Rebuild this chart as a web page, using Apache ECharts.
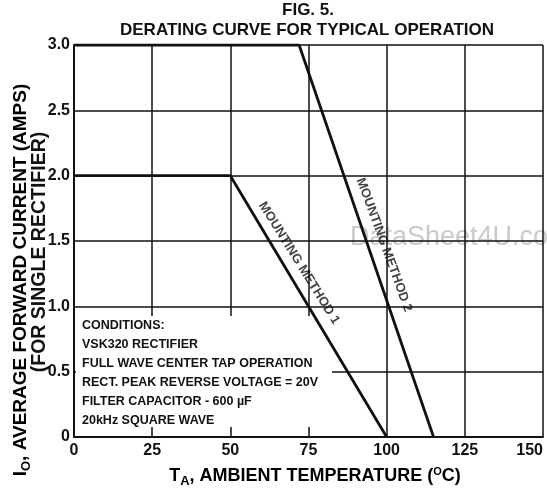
<!DOCTYPE html>
<html>
<head>
<meta charset="utf-8">
<script src="https://cdn.jsdelivr.net/npm/echarts@6/dist/echarts.min.js"></script>
<style>
  html, body { margin: 0; padding: 0; background: #fff; }
  #chart { width: 547px; height: 488px; }
</style>
</head>
<body>
<div id="chart"></div>
<script>
// Courbes de déclassement (temp. ambiante °C, courant A)
const method1 = [[0, 2.0], [50, 2.0], [100, 0]];
const method2 = [[0, 3.0], [72, 3.0], [115, 0]];

// Position des étiquettes le long des courbes
const label1Pos = [72, 1.33];
const label2Pos = [99.2, 1.47];

const conditions = [
  'CONDITIONS:',
  'VSK320 RECTIFIER',
  'FULL WAVE CENTER TAP OPERATION',
  'RECT. PEAK REVERSE VOLTAGE = 20V',
  'FILTER CAPACITOR - 600 \u00b5F',
  '20kHz SQUARE WAVE',
];

const FONT = '"Liberation Sans", Arial, Helvetica, sans-serif';
const INK = '#111';

const chart = echarts.init(document.getElementById('chart'), null, { renderer: 'canvas' });

const condTexts = conditions.map((t, i) => ({
  type: 'text',
  z: 3,
  x: 82,
  y: 326 + i * 19,
  style: { text: t, font: `bold 12.5px ${FONT}`, fill: INK, verticalAlign: 'middle' },
}));

const option = {
  backgroundColor: '#fff',
  animation: false,
  grid: { left: 74, right: 4, top: 45, bottom: 51, outerBoundsMode: 'none' },
  xAxis: {
    type: 'value',
    min: 0, max: 150, interval: 25,
    axisLine: { show: true, lineStyle: { color: INK, width: 2 } },
    axisTick: { show: false },
    axisLabel: {
      color: INK, fontFamily: FONT, fontWeight: 'bold', fontSize: 16, margin: 6,
      alignMaxLabel: 'right',
    },
    splitLine: { show: true, lineStyle: { color: INK, width: 1.5 } },
  },
  yAxis: {
    type: 'value',
    min: 0, max: 3, interval: 0.5,
    axisLine: { show: true, lineStyle: { color: INK, width: 2 } },
    axisTick: { show: false },
    axisLabel: {
      color: INK, fontFamily: FONT, fontWeight: 'bold', fontSize: 16, margin: 4,
      formatter: v => (v === 0 ? '0' : v.toFixed(1)),
    },
    splitLine: { show: true, lineStyle: { color: INK, width: 1.5 } },
  },
  graphic: [
    // titre
    { type: 'text', x: 308, y: 10, style: { text: 'FIG. 5.', font: `bold 17px ${FONT}`, fill: INK, align: 'center', verticalAlign: 'middle' } },
    { type: 'text', x: 307, y: 30, style: { text: 'DERATING CURVE FOR TYPICAL OPERATION', font: `bold 17px ${FONT}`, fill: INK, align: 'center', verticalAlign: 'middle' } },
    // cadre blanc des conditions
    { type: 'rect', z: 1, shape: { x: 76, y: 316, width: 256, height: 111 }, style: { fill: '#fff' } },
    ...condTexts,
    // titre axe Y
    {
      type: 'text', x: 21, y: 280, rotation: Math.PI / 2,
      style: {
        text: '{a|I}{s|O}{a|, AVERAGE FORWARD CURRENT (AMPS)}',
        align: 'center', verticalAlign: 'middle',
        rich: {
          a: { font: `bold 19px ${FONT}`, color: INK },
          s: { font: `bold 13px ${FONT}`, color: INK, padding: [10, 0, 0, 0] },
        },
      },
    },
    {
      type: 'text', x: 40, y: 252, rotation: Math.PI / 2,
      style: { text: '(FOR SINGLE RECTIFIER)', font: `bold 19.5px ${FONT}`, fill: INK, align: 'center', verticalAlign: 'middle' },
    },
    // titre axe X
    {
      type: 'text', x: 315, y: 476,
      style: {
        text: '{t|T}{s|A}{a|, AMBIENT TEMPERATURE (}{p|O}{a|C)}',
        align: 'center', verticalAlign: 'middle',
        rich: {
          t: { font: `bold 18px ${FONT}`, color: INK },
          a: { font: `bold 18px ${FONT}`, color: INK },
          s: { font: `bold 13px ${FONT}`, color: INK, padding: [10, 0, 0, 0] },
          p: { font: `bold 11px ${FONT}`, color: INK, padding: [0, 0, 8, 0] },
        },
      },
    },
    // filigrane
    { type: 'text', x: 350, y: 238, style: { text: 'DataSheet4U.co', font: `27px ${FONT}`, fill: '#cacaca', verticalAlign: 'middle' } },
  ],
  series: [
    {
      name: 'Mounting Method 1', type: 'line', data: method1, symbol: 'none', z: 4,
      lineStyle: { color: INK, width: 2.8 },
    },
    {
      name: 'Mounting Method 2', type: 'line', data: method2, symbol: 'none', z: 4,
      lineStyle: { color: INK, width: 2.8 },
    },
    {
      name: 'labels', type: 'scatter', symbolSize: 0, z: 5, silent: true,
      data: [
        { value: label1Pos, label: { formatter: 'MOUNTING METHOD 1', rotate: -58 } },
        { value: label2Pos, label: { formatter: 'MOUNTING METHOD 2', rotate: -70 } },
      ],
      label: {
        show: true, position: 'inside', color: INK,
        fontFamily: FONT, fontWeight: 'bold', fontSize: 13,
      },
    },
  ],
};

chart.setOption(option);
</script>
</body>
</html>
